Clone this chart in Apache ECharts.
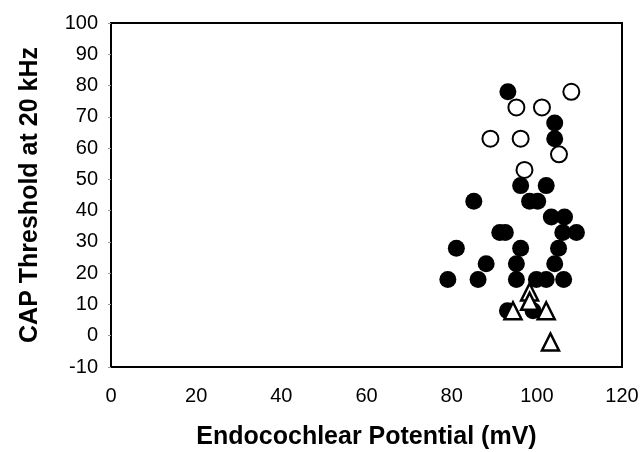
<!DOCTYPE html>
<html>
<head>
<meta charset="utf-8">
<script src="https://cdn.jsdelivr.net/npm/echarts@6/dist/echarts.min.js"></script>
<style>
  html, body { margin: 0; padding: 0; background: #fff; }
  #container { width: 641px; height: 452px; }
</style>
</head>
<body>
<div id="container"></div>
<script>
// endocochlear potential (mV) vs CAP threshold at 20 kHz
let filledEP = [93.2, 104.2, 104.2, 96.2, 102.2, 85.2, 98.3, 100.2, 103.4, 106.5, 91.3, 92.6, 106.1, 109.3,
    81.1, 96.2, 105.1, 88.1, 95.2, 104.2, 79.1, 86.2, 95.2, 99.9, 102.2, 106.3, 93.1, 99.1];
let filledCAP = [78, 68, 63, 48, 48, 43, 43, 43, 38, 38, 33, 33, 33, 33,
    28, 28, 28, 23, 23, 23, 18, 18, 18, 18, 18, 18, 8, 8];

let openEP = [108.1, 95.2, 101.2, 89.1, 96.2, 105.2, 97.1];
let openCAP = [78, 73, 73, 63, 63, 58, 53];

let triEP = [98.3, 98.3, 94.4, 102.2, 103.2];
let triCAP = [14, 11, 8, 8, -2];

let xTicks = [0, 20, 40, 60, 80, 100, 120];
let yTicks = [-10, 0, 10, 20, 30, 40, 50, 60, 70, 80, 90, 100];

function pairs(xs, ys) {
    return xs.map((x, i) => [x, ys[i]]);
}

let dom = document.getElementById("container");
let myChart = echarts.init(dom);

let font = "Liberation Sans, Arial, sans-serif";

let option = {
    animation: false,
    backgroundColor: '#fff',
    grid: {
        left: 111,
        right: 19,
        top: 23,
        bottom: 85,
        outerBoundsMode: 'none',
        containLabel: false,
        show: true,
        borderColor: '#000',
        borderWidth: 2
    },
    xAxis: {
        type: 'value',
        min: xTicks[0],
        max: xTicks[xTicks.length - 1],
        interval: 20,
        name: 'Endocochlear Potential (mV)',
        nameLocation: 'middle',
        nameGap: 58,
        nameTextStyle: { fontFamily: font, fontWeight: 'bold', fontSize: 25, color: '#000' },
        axisLine: { show: true, onZero: false, lineStyle: { color: '#000', width: 2 } },
        axisTick: { show: false },
        splitLine: { show: false },
        axisLabel: { fontFamily: font, fontSize: 20, color: '#000', margin: 19 }
    },
    yAxis: {
        type: 'value',
        min: yTicks[0],
        max: yTicks[yTicks.length - 1],
        interval: 10,
        name: 'CAP Threshold at 20 kHz',
        nameLocation: 'middle',
        nameGap: 68,
        nameTextStyle: { fontFamily: font, fontWeight: 'bold', fontSize: 25, color: '#000' },
        axisLine: { show: true, onZero: false, lineStyle: { color: '#000', width: 2 } },
        axisTick: { show: true, length: 3, lineStyle: { color: '#999', width: 1 } },
        splitLine: { show: false },
        axisLabel: { fontFamily: font, fontSize: 20, color: '#000', margin: 13 }
    },
    series: [
        {
            name: 'filled',
            type: 'scatter',
            symbol: 'circle',
            symbolSize: 17,
            itemStyle: { color: '#000', opacity: 1 },
            data: pairs(filledEP, filledCAP)
        },
        {
            name: 'open',
            type: 'scatter',
            symbol: 'circle',
            symbolSize: 16,
            itemStyle: { color: '#fff', borderColor: '#000', borderWidth: 2, opacity: 1 },
            data: pairs(openEP, openCAP)
        },
        {
            name: 'triangle',
            type: 'scatter',
            symbol: 'triangle',
            symbolSize: 17,
            itemStyle: { color: '#fff', borderColor: '#000', borderWidth: 2.5, opacity: 1 },
            data: pairs(triEP, triCAP)
        }
    ]
};
myChart.setOption(option);
</script>
</body>
</html>
